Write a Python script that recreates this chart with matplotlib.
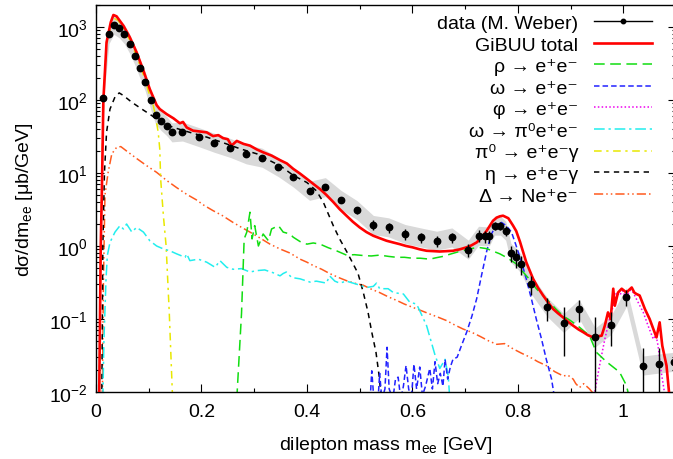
import matplotlib
matplotlib.use("Agg")
import matplotlib.pyplot as plt
from matplotlib.lines import Line2D
from matplotlib.ticker import LogLocator, MultipleLocator, NullFormatter
import numpy as np

plt.rcParams['font.family'] = ['Liberation Sans', 'DejaVu Sans']
plt.rcParams['font.size'] = 14
plt.rcParams['mathtext.default'] = 'regular'

# ---------------- data (M. Weber) ----------------
x_data = [0.0127, 0.0247, 0.034, 0.044, 0.054, 0.064, 0.074, 0.083, 0.0935, 0.104,
          0.113, 0.123, 0.134, 0.144, 0.164, 0.195, 0.224, 0.255, 0.285, 0.315,
          0.346, 0.374, 0.405, 0.435, 0.465, 0.495, 0.526, 0.555, 0.586, 0.616,
          0.646, 0.675, 0.706, 0.7255, 0.737, 0.746, 0.756, 0.767, 0.777, 0.787,
          0.796, 0.806, 0.825, 0.856, 0.887, 0.916, 0.947, 0.977, 1.006, 1.037,
          1.067, 1.097]
y_data = [105, 802, 1070, 960, 794, 585, 404, 272, 178, 99,
          63, 52, 44, 36, 37, 31, 26, 22, 18, 16.2,
          12, 8.7, 5.7, 6.4, 4.26, 3.1, 1.94, 1.80, 1.46, 1.31,
          1.18, 1.31, 0.89, 1.38, 1.36, 1.36, 1.9, 1.9, 1.62, 0.80,
          0.70, 0.57, 0.30, 0.145, 0.088, 0.137, 0.056, 0.083, 0.20, 0.023,
          0.0245, 0.026]
y_err = [3, 20, 25, 25, 20, 15, 10, 7, 5, 3,
         2, 1.6, 1.4, 1.2, 1.2, 1.0, 0.9, 0.8, 0.7, 0.7,
         0.9, 0.7, 0.5, 0.5, 0.4, 0.35, 0.3, 0.27, 0.25, 0.22,
         0.2, 0.2, 0.18, 0.25, 0.25, 0.25, 0.25, 0.25, 0.25, 0.2,
         0.2, 0.17, 0.09, 0.05, 0.057, 0.045, 0.052, 0.04, 0.05, 0.017,
         0.016, 0.015]
sys_factor = 1.35   # systematic band (multiplicative)

# ---------------- GiBUU total ----------------
x_total = [0.006, 0.009, 0.011, 0.014, 0.020, 0.028, 0.033, 0.039, 0.052, 0.064,
           0.077, 0.090, 0.102, 0.115, 0.121, 0.134, 0.147, 0.159, 0.165, 0.172,
           0.184, 0.197, 0.21, 0.222, 0.232, 0.241, 0.25, 0.257, 0.267, 0.28,
           0.292, 0.305, 0.317, 0.333, 0.349, 0.362, 0.374, 0.387, 0.40, 0.412,
           0.425, 0.437, 0.45, 0.462, 0.475, 0.487, 0.50, 0.513, 0.526, 0.538,
           0.551, 0.563, 0.576, 0.588, 0.60, 0.614, 0.627, 0.64, 0.652, 0.665,
           0.677, 0.69, 0.703, 0.712, 0.722, 0.731, 0.741, 0.753, 0.76, 0.766,
           0.772, 0.782, 0.791, 0.797, 0.804, 0.816, 0.829, 0.838, 0.848, 0.857,
           0.867, 0.876, 0.886, 0.895, 0.905, 0.915, 0.924, 0.933, 0.943, 0.951,
           0.959, 0.965, 0.971, 0.976, 0.981, 0.984, 0.99, 0.997, 1.003, 1.006,
           1.011, 1.016, 1.021, 1.025, 1.031, 1.036, 1.041, 1.05, 1.057, 1.063,
           1.069, 1.074, 1.082, 1.088]
y_total = [0.008, 1.0, 5, 100, 617, 1160, 1460, 1400, 1040, 725,
           450, 252, 141, 85, 75, 64, 56, 48, 50, 42,
           38, 37, 36, 32, 33, 30, 29, 23.7, 27.5, 25,
           23.7, 21, 19.2, 17.3, 15, 13.5, 11.4, 9.8, 8.3, 7.1,
           6.0, 5.0, 4.0, 3.2, 2.6, 2.15, 1.80, 1.55, 1.38, 1.28,
           1.18, 1.12, 1.06, 1.0, 0.96, 0.90, 0.86, 0.85, 0.84, 0.85,
           0.86, 0.90, 0.96, 1.02, 1.12, 1.3, 1.62, 2.22, 2.45, 2.55,
           2.6, 2.4, 1.9, 1.6, 1.15, 0.60, 0.355, 0.27, 0.21, 0.17,
           0.137, 0.12, 0.105, 0.092, 0.081, 0.072, 0.066, 0.06, 0.056, 0.058,
           0.059, 0.081, 0.123, 0.1, 0.26, 0.152, 0.23, 0.26, 0.24, 0.23,
           0.25, 0.27, 0.23, 0.22, 0.21, 0.17, 0.137, 0.1, 0.073, 0.056,
           0.09, 0.043, 0.023, 0.008]

# ---------------- rho -> e+e- ----------------
x_rho = [0.267, 0.276, 0.281, 0.286, 0.292, 0.296, 0.301, 0.308, 0.317, 0.327,
         0.333, 0.346, 0.355, 0.368, 0.374, 0.387, 0.40, 0.412, 0.425, 0.44,
         0.456, 0.475, 0.49, 0.507, 0.522, 0.538, 0.555, 0.57, 0.585, 0.60,
         0.615, 0.633, 0.645, 0.658, 0.671, 0.684, 0.697, 0.709, 0.718, 0.728,
         0.741, 0.753, 0.766, 0.778, 0.785, 0.797, 0.804, 0.81, 0.822, 0.835,
         0.848, 0.86, 0.873, 0.886, 0.9, 0.917, 0.936, 0.949, 0.968, 0.993,
         1.006, 1.012]
y_rho = [0.008, 0.12, 1.25, 1.55, 2.9, 1.25, 1.9, 1.0, 1.46, 1.18,
         1.71, 1.9, 1.55, 1.46, 1.32, 1.15, 1.06, 1.1, 1.06, 0.95,
         0.86, 0.75, 0.76, 0.74, 0.73, 0.75, 0.72, 0.70, 0.70, 0.68,
         0.68, 0.66, 0.69, 0.72, 0.77, 0.82, 0.87, 0.91, 0.94, 0.95,
         0.92, 0.85, 0.78, 0.70, 0.65, 0.57, 0.48, 0.44, 0.35, 0.26,
         0.21, 0.17, 0.135, 0.11, 0.095, 0.077, 0.059, 0.035, 0.026, 0.0187,
         0.0123, 0.008]

# ---------------- omega -> e+e- ----------------
x_omega = [0.52, 0.523, 0.527, 0.535, 0.538, 0.542, 0.548, 0.552, 0.556, 0.563,
           0.568, 0.573, 0.578, 0.583, 0.588, 0.593, 0.598, 0.603, 0.608, 0.614,
           0.619, 0.625, 0.633, 0.638, 0.643, 0.648, 0.653, 0.658, 0.662, 0.667,
           0.672, 0.677, 0.685, 0.693, 0.703, 0.713, 0.722, 0.731, 0.741, 0.75,
           0.76, 0.769, 0.778, 0.788, 0.797, 0.807, 0.816, 0.826, 0.835, 0.845,
           0.854, 0.864, 0.87]
y_omega = [0.008, 0.0195, 0.008, 0.008, 0.018, 0.008, 0.011, 0.041, 0.011, 0.008,
           0.015, 0.016, 0.008, 0.012, 0.023, 0.011, 0.008, 0.024, 0.011, 0.022,
           0.009, 0.012, 0.021, 0.011, 0.026, 0.013, 0.018, 0.012, 0.028, 0.015,
           0.022, 0.028, 0.03, 0.043, 0.066, 0.11, 0.19, 0.39, 0.85, 1.46,
           2.0, 2.1, 1.9, 1.55, 1.0, 0.60, 0.355, 0.186, 0.1, 0.053,
           0.028, 0.015, 0.008]

# ---------------- phi -> e+e- ----------------
x_phi = [0.943, 0.946, 0.955, 0.965, 0.974, 0.981, 0.987, 0.993, 0.999, 1.004,
         1.009, 1.014, 1.019, 1.023, 1.028, 1.038, 1.047, 1.057, 1.062, 1.066,
         1.072, 1.078, 1.08]
y_phi = [0.008, 0.01, 0.023, 0.053, 0.1, 0.152, 0.23, 0.21, 0.245, 0.2,
         0.22, 0.25, 0.23, 0.2, 0.17, 0.123, 0.081, 0.053, 0.06, 0.043,
         0.0187, 0.01, 0.008]

# ---------------- omega -> pi0 e+e- ----------------
x_omdal = [0.013, 0.015, 0.019, 0.0215, 0.0265, 0.036, 0.0455, 0.052, 0.058, 0.068,
           0.077, 0.09, 0.102, 0.115, 0.128, 0.14, 0.153, 0.169, 0.172, 0.178,
           0.194, 0.21, 0.226, 0.235, 0.248, 0.26, 0.276, 0.292, 0.305, 0.32,
           0.336, 0.349, 0.355, 0.361, 0.371, 0.387, 0.406, 0.418, 0.437, 0.443,
           0.453, 0.462, 0.475, 0.494, 0.513, 0.526, 0.532, 0.538, 0.554, 0.564,
           0.583, 0.595, 0.608, 0.614, 0.627, 0.636, 0.643, 0.652, 0.662, 0.668,
           0.671]
y_omdal = [0.008, 0.05, 0.35, 0.74, 1.12, 1.55, 1.9, 1.71, 2.0, 1.55,
           1.8, 1.55, 1.18, 1.0, 0.91, 0.86, 0.78, 0.70, 0.78, 0.63,
           0.66, 0.60, 0.51, 0.63, 0.51, 0.48, 0.49, 0.44, 0.46, 0.47,
           0.43, 0.39, 0.42, 0.44, 0.37, 0.355, 0.32, 0.33, 0.31, 0.39,
           0.33, 0.31, 0.33, 0.30, 0.27, 0.28, 0.31, 0.26, 0.26, 0.23,
           0.22, 0.17, 0.16, 0.13, 0.081, 0.048, 0.032, 0.021, 0.028, 0.0166,
           0.008]

# ---------------- pi0 -> e+e- gamma ----------------
x_pi0 = [0.006, 0.009, 0.012, 0.015, 0.02, 0.028, 0.035, 0.042, 0.052, 0.064,
         0.077, 0.09, 0.102, 0.108, 0.112, 0.118, 0.121, 0.1226, 0.128, 0.133,
         0.139, 0.145]
y_pi0 = [0.008, 1.0, 20, 150, 560, 1060, 1300, 1230, 950, 660,
         400, 220, 115, 88, 65, 36, 21, 8.3, 2.5, 1.0,
         0.12, 0.009]

# ---------------- eta -> e+e- gamma ----------------
x_eta = [0.011, 0.013, 0.016, 0.02, 0.0265, 0.036, 0.044, 0.052, 0.068, 0.087,
         0.106, 0.121, 0.147, 0.178, 0.21, 0.241, 0.273, 0.305, 0.336, 0.349,
         0.374, 0.40, 0.418, 0.431, 0.45, 0.462, 0.475, 0.485, 0.497, 0.507,
         0.516, 0.523, 0.531, 0.537, 0.541]
y_eta = [0.008, 1, 10, 36, 75, 110, 125, 115, 93, 75,
         61, 50, 42, 36, 31, 26, 21.5, 18.3, 14, 12.6,
         9.3, 7.4, 5.7, 4.0, 1.9, 1.25, 0.85, 0.62, 0.42, 0.23,
         0.123, 0.066, 0.035, 0.0166, 0.008]

# ---------------- Delta -> N e+e- ----------------
x_delta = [0.012, 0.014, 0.017, 0.023, 0.03, 0.039, 0.047, 0.058, 0.077, 0.096,
           0.115, 0.134, 0.153, 0.172, 0.19, 0.205, 0.222, 0.24, 0.26, 0.276,
           0.292, 0.31, 0.33, 0.349, 0.368, 0.387, 0.40, 0.412, 0.428, 0.443,
           0.46, 0.475, 0.49, 0.507, 0.52, 0.538, 0.555, 0.57, 0.585, 0.60,
           0.617, 0.633, 0.65, 0.665, 0.68, 0.696, 0.712, 0.728, 0.745, 0.76,
           0.775, 0.791, 0.807, 0.823, 0.838, 0.854, 0.87, 0.886, 0.895, 0.905,
           0.91, 0.917, 0.925, 0.936, 0.946]
y_delta = [0.008, 0.3, 5, 10.2, 18.3, 22.4, 23, 20, 15.8, 12.6,
           10.2, 7.9, 6.3, 5.1, 4.3, 3.6, 3.05, 2.6, 2.1, 1.8,
           1.55, 1.3, 1.06, 0.91, 0.8, 0.66, 0.6, 0.54, 0.48, 0.42,
           0.37, 0.335, 0.31, 0.29, 0.26, 0.23, 0.2, 0.18, 0.16, 0.145,
           0.13, 0.117, 0.105, 0.095, 0.083, 0.073, 0.066, 0.058, 0.05, 0.045,
           0.046, 0.039, 0.034, 0.03, 0.026, 0.023, 0.019, 0.0166, 0.017, 0.015,
           0.013, 0.0115, 0.013, 0.011, 0.009]

labels = ['data (M. Weber)', 'GiBUU total',
          'ρ → e⁺e⁻',
          'ω → e⁺e⁻',
          'φ → e⁺e⁻',
          'ω → π⁰e⁺e⁻',
          'π⁰ → e⁺e⁻γ',
          'η → e⁺e⁻γ',
          'Δ → Ne⁺e⁻']

# ---------------- figure ----------------
fig = plt.figure(figsize=(6.73, 4.60), dpi=100)
ax = fig.add_axes([96/673, 67/460, 580/673, 387/460])
ax.set_yscale('log')
ax.set_xlim(0, 1.1)
ax.set_ylim(1e-2, 2e3)

xd = np.array(x_data)
yd = np.array(y_data)
ax.fill_between(xd, yd / sys_factor, yd * sys_factor, color='#d9d9d9', lw=0, zorder=1)

lw = 1.1
l_delta, = ax.plot(x_delta, y_delta, color='#ff5a1e', lw=lw, ls=(0, (6, 2, 1, 2, 1, 2)), zorder=2)
l_eta, = ax.plot(x_eta, y_eta, color='black', lw=lw, ls=(0, (3.5, 3)), zorder=2)
l_pi0, = ax.plot(x_pi0, y_pi0, color='#e8e800', lw=lw, ls=(0, (5, 3, 1.5, 3)), zorder=2)
l_omdal, = ax.plot(x_omdal, y_omdal, color='#22eeee', lw=lw, ls=(0, (7, 2.5, 1.5, 2.5)), zorder=2)
l_phi, = ax.plot(x_phi, y_phi, color='#ee00ee', lw=lw, ls=(0, (1, 1.5)), zorder=2)
l_omega, = ax.plot(x_omega, y_omega, color='#2222ff', lw=lw, ls=(0, (3.6, 2)), zorder=2)
l_rho, = ax.plot(x_rho, y_rho, color='#11dd11', lw=lw, ls=(0, (7, 3.6)), zorder=2)
l_tot, = ax.plot(x_total, y_total, color='#ff0000', lw=1.9, zorder=3)

ax.errorbar(x_data, y_data, yerr=y_err, fmt='o', color='black', ms=4.6,
            elinewidth=1.0, capsize=0, zorder=5)

data_proxy = Line2D([], [], color='black', lw=1.0, marker='o', ms=3.2)
handles = [data_proxy, l_tot, l_rho, l_omega, l_phi, l_omdal, l_pi0, l_eta, l_delta]
leg = ax.legend(handles, labels, loc='upper right', markerfirst=False, frameon=False,
                numpoints=1, handlelength=3.0, handletextpad=0.8, labelspacing=0.2,
                borderpad=0, borderaxespad=0,
                bbox_to_anchor=(652/673, 1 - 15.5/460), bbox_transform=fig.transFigure)

# ticks
ax.set_xticks([0, 0.2, 0.4, 0.6, 0.8, 1.0])
ax.set_xticklabels(['0', '0.2', '0.4', '0.6', '0.8', '1'])
ax.xaxis.set_minor_locator(MultipleLocator(0.1))
ax.yaxis.set_major_locator(LogLocator(base=10, numticks=10))
ax.yaxis.set_minor_locator(LogLocator(base=10, subs=np.arange(2, 10), numticks=20))
ax.yaxis.set_minor_formatter(NullFormatter())
ax.tick_params(which='both', direction='in', top=True, right=True)
ax.tick_params(which='major', length=6, width=0.8)
ax.tick_params(which='minor', length=3, width=0.8)
ax.tick_params(axis='x', pad=8)
ax.tick_params(axis='y', pad=6)
for s in ax.spines.values():
    s.set_linewidth(1.0)

ax.set_xlabel('dilepton mass m$_{ee}$ [GeV]')
ax.set_ylabel('dσ/dm$_{ee}$ [μb/GeV]')
ax.xaxis.set_label_coords(0.5, -0.108)
ax.yaxis.set_label_coords(-0.105, 0.5)

fig.savefig('out.png', dpi=100)
